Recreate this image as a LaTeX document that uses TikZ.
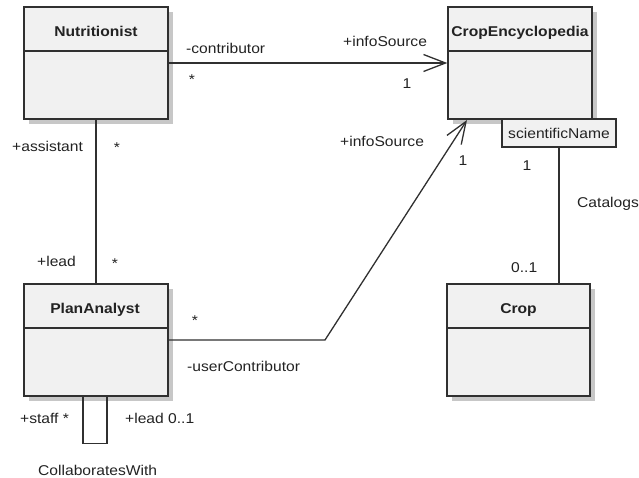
\documentclass[tikz,border=0pt]{standalone}
\usepackage{fontspec}
\setmainfont[FakeStretch=1.1]{Liberation Sans}
\usetikzlibrary{arrows.meta,shadows,calc}
\definecolor{boxfill}{HTML}{F1F1F1}
\definecolor{linecol}{HTML}{303030}
\definecolor{txtcol}{HTML}{222222}
\tikzset{
  cls/.style={draw=linecol, line width=1.4bp, fill=boxfill, rectangle, minimum width=144bp, minimum height=112bp, inner sep=0pt,
    drop shadow={shadow xshift=5bp, shadow yshift=-5bp, fill=black!22, opacity=1}},
  clsname/.style={font=\fontsize{14.2bp}{16bp}\selectfont\bfseries, text=txtcol, inner sep=0pt},
  lbl/.style={font=\fontsize{14.2bp}{16bp}\selectfont, text=txtcol, inner sep=0pt},
  assoc/.style={draw=linecol, line width=1.3bp},
  openarrow/.style={-{Straight Barb[length=22bp,width=17bp,line width=1.3bp]}}
}
\begin{document}
\begin{tikzpicture}[x=1bp,y=-1bp]
\useasboundingbox (0,0) rectangle (639,478);
% classes
\node[cls] (nut) at (96,63) {};
\node[cls] (ce) at (520,63) {};
\node[cls, minimum width=143bp] (crop) at (518.5,340) {};
\node[cls] (pa) at (96,340) {};
\draw[assoc] (nut.west |- 0,51) -- (nut.east |- 0,51);
\draw[assoc] (ce.west |- 0,51) -- (ce.east |- 0,51);
\draw[assoc] (crop.west |- 0,328) -- (crop.east |- 0,328);
\draw[assoc] (pa.west |- 0,328) -- (pa.east |- 0,328);
\node[clsname, anchor=base] (nutname) at (96,37) {Nutritionist};
\node[clsname, anchor=base] (cename) at (520,37) {CropEncyclopedia};
\node[clsname, anchor=base] (cropname) at (518.5,313) {Crop};
\node[clsname, anchor=base] (paname) at (95,313) {PlanAnalyst};
% qualifier
\node[draw=linecol, line width=1.3bp, fill=boxfill, minimum width=114bp, minimum height=28bp, inner sep=0pt,
  font=\fontsize{14.2bp}{16bp}\selectfont, text=txtcol] (sn) at (559,133) {scientificName};
% connectors
\draw[assoc, openarrow] (nut.east) -- (ce.west);
\draw[assoc] (nut.south) -- (pa.north);
\coordinate (bend) at (325,340);
\coordinate (cetip) at (467,120);
\draw[assoc, openarrow] (pa.east) -- (bend) -- (cetip);
\draw[assoc] (sn.south) -- (sn.south |- crop.north);
\coordinate (loopa) at ($(pa.south)+(-13,0)$);
\coordinate (loopb) at ($(pa.south)+(11,0)$);
\draw[assoc] (loopa) -- ++(0,47) -| (loopb);
% labels
\node[lbl, anchor=base west] (l1) at (186,54) {-contributor};
\node[lbl, anchor=base] (l2) at (192,85) {*};
\node[lbl, anchor=base west] (l3) at (343,47) {+infoSource};
\node[lbl, anchor=base] (l4) at (407,89) {1};
\node[lbl, anchor=base west] (l5) at (340,147) {+infoSource};
\node[lbl, anchor=base] (l6) at (463,166) {1};
\node[lbl, anchor=base] (l7) at (527,171) {1};
\node[lbl, anchor=base west] (l8) at (577,208) {Catalogs};
\node[lbl, anchor=base west] (l9) at (511,272) {0..1};
\node[lbl, anchor=base west] (l10) at (12,152) {+assistant};
\node[lbl, anchor=base] (l11) at (117,153) {*};
\node[lbl, anchor=base west] (l12) at (37,266) {+lead};
\node[lbl, anchor=base] (l13) at (115,268) {*};
\node[lbl, anchor=base] (l14) at (195,325) {*};
\node[lbl, anchor=base west] (l15) at (187,371) {-userContributor};
\node[lbl, anchor=base west] (l16) at (20,423) {+staff *};
\node[lbl, anchor=base west] (l17) at (125,423) {+lead 0..1};
\node[lbl, anchor=base west] (l18) at (38,475) {CollaboratesWith};
\end{tikzpicture}
\end{document}
